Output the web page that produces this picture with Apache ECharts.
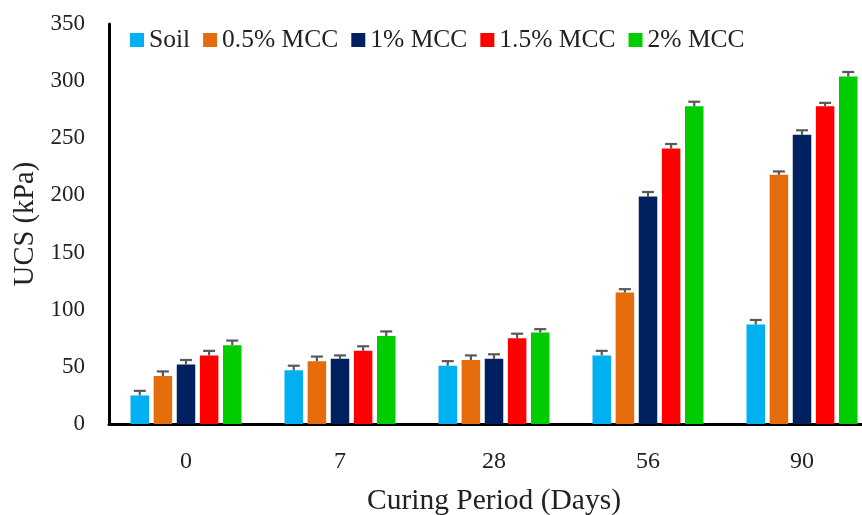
<!DOCTYPE html>
<html>
<head>
<meta charset="utf-8">
<script src="https://cdn.jsdelivr.net/npm/echarts@6/dist/echarts.min.js"></script>
<style>html,body{margin:0;padding:0;background:#fff;}#chart{width:862px;height:515px;}</style>
</head>
<body>
<div id="chart"></div>
<script>
var categories = ['0', '7', '28', '56', '90'];
var seriesNames = ['Soil', '0.5% MCC', '1% MCC', '1.5% MCC', '2% MCC'];
var soil = [25, 47, 51, 60, 87];
var mcc05 = [42, 55, 56, 115, 218];
var mcc1 = [52, 57, 57, 199, 253];
var mcc15 = [60, 64, 75, 241, 278];
var mcc2 = [69, 77, 80, 278, 304];
var errSoil = [4, 4, 4, 4, 4];
var err05 = [4, 4, 4, 3, 3];
var err1 = [4, 3, 4, 4, 4];
var err15 = [4, 4, 4, 4, 3];
var err2 = [4, 4, 3, 4, 4];
var yTicks = [0, 50, 100, 150, 200, 250, 300, 350];

var values = [soil, mcc05, mcc1, mcc15, mcc2];
var errors = [errSoil, err05, err1, err15, err2];
var colors = ['#00B0F0', '#E46C0A', '#002060', '#FF0000', '#00CC00'];
var FONT = 'Liberation Serif';
var BAR_W = 18.5;
var BAR_GAP = 0.25;

var series = [];
values.forEach(function (v, i) {
  series.push({
    name: seriesNames[i],
    type: 'bar',
    data: v,
    barWidth: BAR_W,
    barGap: (BAR_GAP * 100) + '%',
    itemStyle: { color: colors[i] },
    z: 2
  });
});
values.forEach(function (v, i) {
  var data = v.map(function (val, j) { return [j, val, val + errors[i][j]]; });
  series.push({
    type: 'custom',
    name: 'err' + i,
    data: data,
    z: 3,
    silent: true,
    renderItem: function (params, api) {
      var idx = api.value(0);
      var base = api.coord([idx, api.value(1)]);
      var top = api.coord([idx, api.value(2)]);
      var step = BAR_W * (1 + BAR_GAP);
      var x = base[0] + (i - 2) * step;
      var half = 6;
      var style = { stroke: '#595959', lineWidth: 2.2 };
      return {
        type: 'group',
        children: [
          { type: 'line', shape: { x1: x, y1: base[1], x2: x, y2: top[1] }, style: style },
          { type: 'line', shape: { x1: x - half, y1: top[1], x2: x + half, y2: top[1] }, style: style }
        ]
      };
    }
  });
});

var chart = echarts.init(document.getElementById('chart'), null, { renderer: 'canvas' });
chart.setOption({
  animation: false,
  backgroundColor: '#ffffff',
  textStyle: { fontFamily: FONT },
  grid: { left: 109, width: 770, top: 24, height: 400, containLabel: false, outerBoundsMode: 'none' },
  legend: {
    data: seriesNames,
    left: 125,
    top: 22,
    itemWidth: 14,
    itemHeight: 14,
    itemGap: 13,
    icon: 'rect',
    textStyle: { fontFamily: FONT, fontSize: 25.5, color: '#222' }
  },
  xAxis: {
    type: 'category',
    data: categories,
    name: 'Curing Period (Days)',
    nameLocation: 'middle',
    nameGap: 62,
    nameTextStyle: { fontFamily: FONT, fontSize: 29.5, color: '#222' },
    axisLine: { lineStyle: { color: '#000', width: 3 } },
    axisTick: { show: false },
    axisLabel: { fontFamily: FONT, fontSize: 24, color: '#222', margin: 26 },
    splitLine: { show: false }
  },
  yAxis: {
    type: 'value',
    min: yTicks[0],
    max: yTicks[yTicks.length - 1],
    interval: 50,
    name: 'UCS (kPa)',
    nameLocation: 'middle',
    nameGap: 68,
    nameTextStyle: { fontFamily: FONT, fontSize: 28.5, color: '#222' },
    axisLine: { show: true, lineStyle: { color: '#000', width: 3 } },
    axisTick: { show: false },
    axisLabel: { fontFamily: FONT, fontSize: 23, color: '#222', margin: 24, verticalAlign: 'middle', padding: [4, 0, 0, 0] },
    splitLine: { show: false }
  },
  series: series
});
</script>
</body>
</html>
